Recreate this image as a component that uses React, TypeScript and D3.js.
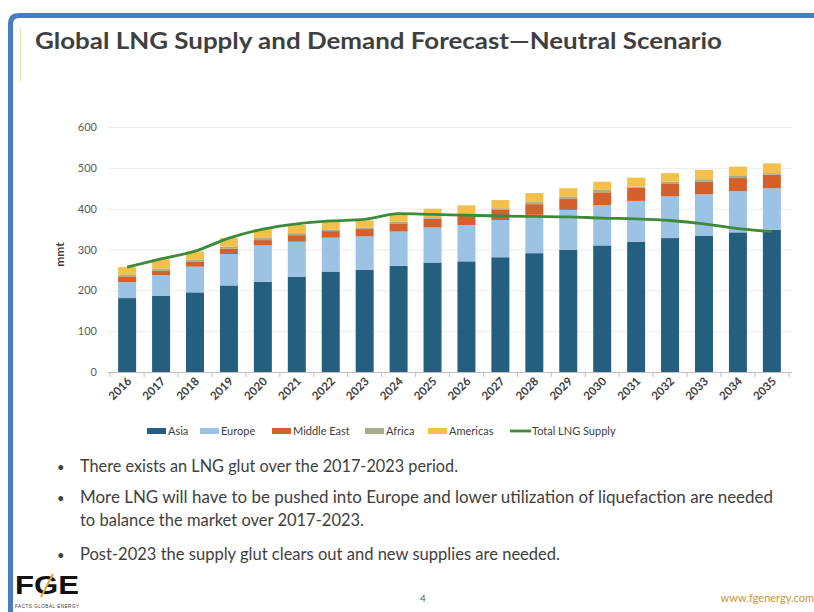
import { useEffect, useRef } from 'react';
import * as d3 from 'd3';

const years = ['2016', '2017', '2018', '2019', '2020', '2021', '2022', '2023', '2024', '2025',
  '2026', '2027', '2028', '2029', '2030', '2031', '2032', '2033', '2034', '2035'];

const asia = [181, 187, 195, 212, 221, 233, 246, 250, 260, 268, 271, 281, 291, 299, 310, 319, 328, 334, 342, 348];
const europe = [39, 50, 63, 77, 89, 86, 83, 82, 84, 86, 89, 91, 94, 98, 99, 100, 102, 101, 101, 102];
const middleEast = [14, 11, 12, 13, 13, 16, 16, 18, 20, 21, 23, 25, 26, 28, 31, 32, 32, 31, 32, 33];
const africa = [4, 5, 5, 5, 5, 5, 4, 4, 4, 4, 4, 4, 5, 5, 6, 3, 4, 6, 5, 4];
const americas = [19, 23, 20, 21, 22, 20, 21, 17, 18, 21, 21, 20, 22, 20, 20, 22, 21, 23, 23, 24];
const totalSupply = [257, 277, 296, 328, 350, 363, 370, 374, 388, 386, 384, 382, 381, 380, 377, 375, 371, 363, 351, 344];

const seriesNames = ['Asia', 'Europe', 'Middle East', 'Africa', 'Americas'];
const seriesColors = ['#255f7f', '#9cc2e4', '#d4602b', '#a6ad8a', '#f3c04a'];
const lineName = 'Total LNG Supply';
const lineColor = '#3f8a3a';
const yTicks = [0, 100, 200, 300, 400, 500, 600];

const bullets = [
  ['There exists an LNG glut over the 2017-2023 period.'],
  ['More LNG will have to be pushed into Europe and lower utilization of liquefaction are needed',
    'to balance the market over 2017-2023.'],
  ['Post-2023 the supply glut clears out and new supplies are needed.'],
];
// measured widths of each bullet line in the slide
const bulletWidths = [[378], [693, 284], [480]];

const font = 'Lato, "Open Sans", sans-serif';

const App = () => {
  const svgRef = useRef<SVGSVGElement>(null);

  useEffect(() => {
    const svg = d3.select(svgRef.current);
    svg.selectAll('*').remove();

    const width = 814;
    const height = 612;
    const marginLeft = 110;
    const marginRight = 25;
    const plotTop = 127;
    const plotBottom = 372;

    svg.attr('viewBox', [0, 0, width, height]);

    // page frame
    svg.append('rect').attr('width', width).attr('height', height).attr('fill', '#fff');
    svg.append('path')
      .attr('d', `M10.5,${height} L10.5,24 Q10.5,15.5 19,15.5 L${width},15.5`)
      .attr('fill', 'none')
      .attr('stroke', '#4a7dbf')
      .attr('stroke-width', 5);
    svg.append('line')
      .attr('x1', 20.5).attr('x2', 20.5).attr('y1', 28).attr('y2', 82)
      .attr('stroke', '#f3dfae').attr('stroke-width', 1);

    svg.append('text')
      .attr('x', 35).attr('y', 49)
      .attr('font-family', font).attr('font-weight', 700).attr('font-size', 23)
      .attr('fill', '#3f3f3f')
      .attr('textLength', 687).attr('lengthAdjust', 'spacingAndGlyphs')
      .text('Global LNG Supply and Demand Forecast\u2014Neutral Scenario');

    const data = years.map((year, i) => ({
      year,
      Asia: asia[i],
      Europe: europe[i],
      'Middle East': middleEast[i],
      Africa: africa[i],
      Americas: americas[i],
    }));

    const x = d3.scaleBand()
      .domain(years)
      .range([marginLeft, width - marginRight])
      .paddingInner(0.47)
      .paddingOuter(0.24);

    const y = d3.scaleLinear()
      .domain([0, 600])
      .range([plotBottom, plotTop]);

    // gridlines
    svg.append('g')
      .selectAll('line')
      .data(yTicks.slice(1))
      .join('line')
        .attr('x1', marginLeft - 2)
        .attr('x2', width - marginRight + 3)
        .attr('y1', d => y(d) + 0.5)
        .attr('y2', d => y(d) + 0.5)
        .attr('stroke', '#ececec');

    // y axis labels
    svg.append('g')
      .attr('transform', `translate(${marginLeft},0)`)
      .call(d3.axisLeft(y).tickValues(yTicks).tickSize(0).tickPadding(13))
      .call(g => g.select('.domain').remove())
      .call(g => g.selectAll('text')
        .attr('font-family', font).attr('font-size', 11).attr('fill', '#595959'));

    svg.append('text')
      .attr('transform', `translate(64,${(plotTop + plotBottom) / 2 + 5}) rotate(-90)`)
      .attr('text-anchor', 'middle')
      .attr('font-family', font).attr('font-weight', 700).attr('font-size', 12)
      .attr('fill', '#404040')
      .text('mmt');

    // stacked bars
    const stacked = d3.stack<any>().keys(seriesNames)(data);
    svg.append('g')
      .selectAll('g')
      .data(stacked)
      .join('g')
        .attr('fill', (_, i) => seriesColors[i])
      .selectAll('rect')
      .data(d => d)
      .join('rect')
        .attr('x', d => x(d.data.year) as number)
        .attr('y', d => y(d[1]))
        .attr('height', d => y(d[0]) - y(d[1]))
        .attr('width', x.bandwidth());

    // x axis
    const step = x.step();
    const xAxis = svg.append('g').attr('transform', `translate(0,${plotBottom})`);
    xAxis.append('line')
      .attr('x1', marginLeft - 2).attr('x2', width - marginRight + 3)
      .attr('y1', 0.5).attr('y2', 0.5)
      .attr('stroke', '#bfbfbf');
    xAxis.selectAll('.tk')
      .data(d3.range(years.length + 1))
      .join('line')
        .attr('class', 'tk')
        .attr('x1', i => (x(years[0]) as number) + x.bandwidth() / 2 - step / 2 + i * step)
        .attr('x2', i => (x(years[0]) as number) + x.bandwidth() / 2 - step / 2 + i * step)
        .attr('y1', 0).attr('y2', 5)
        .attr('stroke', '#bfbfbf');
    xAxis.selectAll('text')
      .data(years)
      .join('text')
        .attr('transform', d => `translate(${(x(d) as number) + x.bandwidth() / 2 + 5},${10}) rotate(-45)`)
        .attr('text-anchor', 'end')
        .attr('font-family', font).attr('font-weight', 700).attr('font-size', 11.5)
        .attr('fill', '#404040')
        .text(d => d);

    // total supply line
    const line = d3.line<number>()
      .x((_, i) => (x(years[i]) as number) + x.bandwidth() / 2)
      .y(d => y(d))
      .curve(d3.curveMonotoneX);
    svg.append('path')
      .datum(totalSupply)
      .attr('d', line)
      .attr('fill', 'none')
      .attr('stroke', lineColor)
      .attr('stroke-width', 2.8);

    // legend
    const legendItems = [
      { name: 'Asia', x: 147 },
      { name: 'Europe', x: 200 },
      { name: 'Middle East', x: 272 },
      { name: 'Africa', x: 365 },
      { name: 'Americas', x: 428 },
    ];
    const legend = svg.append('g').attr('font-family', font).attr('font-size', 11).attr('fill', '#404040');
    legendItems.forEach((item, i) => {
      legend.append('rect')
        .attr('x', item.x).attr('y', 428).attr('width', 19).attr('height', 6)
        .attr('fill', seriesColors[i]);
      legend.append('text')
        .attr('x', item.x + 21).attr('y', 435)
        .text(item.name);
    });
    legend.append('line')
      .attr('x1', 510).attr('x2', 531).attr('y1', 431).attr('y2', 431)
      .attr('stroke', lineColor).attr('stroke-width', 2.8);
    legend.append('text').attr('x', 532).attr('y', 435).text(lineName);

    // bullet text
    const bulletY = [472, 503, 560];
    const notes = svg.append('g').attr('font-family', font).attr('font-size', 16.3).attr('fill', '#404040');
    bullets.forEach((lines, i) => {
      notes.append('text').attr('x', 57).attr('y', bulletY[i]).attr('font-size', 13).text('\u2022');
      lines.forEach((t, j) => {
        notes.append('text')
          .attr('x', 80).attr('y', bulletY[i] + j * 23)
          .attr('textLength', bulletWidths[i][j]).attr('lengthAdjust', 'spacingAndGlyphs')
          .text(t);
      });
    });

    // footer
    svg.append('text')
      .attr('x', 15).attr('y', 594)
      .attr('font-family', '"Liberation Sans", Arial, sans-serif').attr('font-weight', 700).attr('font-size', 25)
      .attr('fill', '#111')
      .attr('textLength', 64).attr('lengthAdjust', 'spacingAndGlyphs')
      .text('FGE');
    svg.append('line')
      .attr('x1', 41).attr('x2', 53).attr('y1', 597).attr('y2', 574)
      .attr('stroke', '#e0a526').attr('stroke-width', 2);
    svg.append('text')
      .attr('x', 15).attr('y', 608)
      .attr('font-family', '"Liberation Sans", Arial, sans-serif').attr('font-size', 4.5)
      .attr('fill', '#333')
      .attr('textLength', 64)
      .text('FACTS GLOBAL ENERGY');
    svg.append('text')
      .attr('x', 420).attr('y', 602)
      .attr('font-family', font).attr('font-size', 10).attr('fill', '#595959')
      .text('4');
    svg.append('text')
      .attr('x', 814).attr('y', 602)
      .attr('text-anchor', 'end')
      .attr('font-family', font).attr('font-size', 11).attr('fill', '#c8943a')
      .text('www.fgenergy.com');
  }, []);

  return (
    <svg ref={svgRef} width={814} height={612}
      style={{ position: 'absolute', left: 0, top: 0, display: 'block' }} />
  );
};

export default App;
